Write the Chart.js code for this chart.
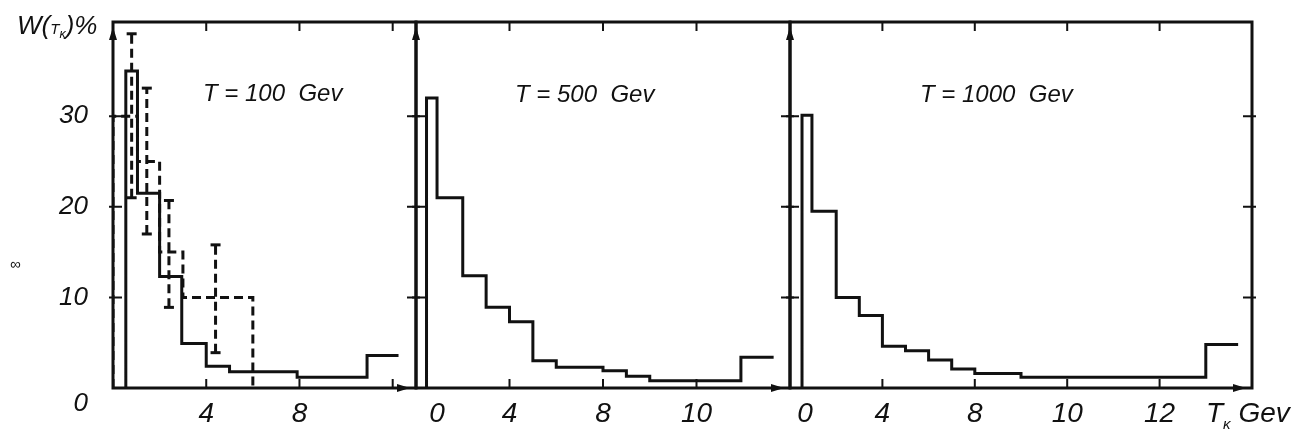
<!DOCTYPE html>
<html>
<head>
<meta charset="utf-8">
<script src="https://cdn.jsdelivr.net/npm/chart.js@4.4.1/dist/chart.umd.min.js"></script>
<style>
  html, body { margin: 0; padding: 0; background: #fff; }
  #page { position: relative; width: 1292px; height: 431px; overflow: hidden;
          font-family: "Liberation Sans", "DejaVu Sans", sans-serif; font-style: italic; color: #111; }
  canvas { position: absolute; left: 0; top: 0; }
  .txt { position: absolute; white-space: nowrap; line-height: 1; }
  .sm { font-size: 15px; }
</style>
</head>
<body>
<div id="page">
  <canvas id="c1" width="1292" height="431"></canvas>
  <canvas id="c2" width="1292" height="431"></canvas>
  <canvas id="c3" width="1292" height="431"></canvas>
  <div class="txt" style="left:17px;top:12px;font-size:26px">W(<span class="sm">T<sub>κ</sub></span>)%</div>
  <div class="txt" style="left:10px;top:256px;font-size:15px;font-style:normal">∞</div>
  <div class="txt" style="left:203px;top:81px;font-size:24px">T = 100&nbsp; Gev</div>
  <div class="txt" style="left:515px;top:82px;font-size:24px">T = 500&nbsp; Gev</div>
  <div class="txt" style="left:920px;top:82px;font-size:24px">T = 1000&nbsp; Gev</div>
  <div class="txt" style="left:1206px;top:399px;font-size:28px">T<sub class="sm">κ</sub> Gev</div>
</div>
<script>
// shared y axis
const yTicks = [0, 10, 20, 30];
const yTickLabels = ['0', '10', '20', '30'];

// T = 100 GeV : calculated histogram (solid)
const p1Edges = [0.55, 1.05, 2, 2.95, 4, 5, 7.9, 10.9, 12.25];
const p1Heights = [35, 21.5, 12.3, 4.9, 2.4, 1.8, 1.2, 3.6];
// T = 100 GeV : experiment (dashed) with error bars
const p1DashEdges = [0, 1.05, 2, 3, 6];
const p1DashHeights = [30, 25, 15, 10];
const p1ErrX = [0.8, 1.45, 2.4, 4.4];
const p1ErrLo = [21, 17, 8.9, 3.9];
const p1ErrHi = [39.1, 33.1, 20.7, 15.8];
const p1XMarks = [4, 8, 12];
const p1XLabelPos = [4, 8];
const p1XLabels = ['4', '8'];

// T = 500 GeV
const p2Edges = [0.45, 0.9, 2, 3, 4, 5, 6, 8, 9, 10, 13.9, 15.3];
const p2Heights = [32, 21, 12.4, 8.9, 7.3, 3, 2.3, 1.9, 1.3, 0.8, 3.4];
const p2XMarks = [4, 8, 12];
const p2XLabelPos = [0.9, 4, 8, 12];
const p2XLabels = ['0', '4', '8', '10'];

// T = 1000 GeV
const p3Edges = [0.52, 0.95, 2, 3, 4, 5, 6, 7, 8, 10, 18, 19.4];
const p3Heights = [30.1, 19.5, 10, 8, 4.6, 4.1, 3.1, 2.1, 1.6, 1.2, 4.8];
const p3XMarks = [4, 8, 12, 16];
const p3XLabelPos = [0.65, 4, 8, 12, 16];
const p3XLabels = ['0', '4', '8', '10', '12'];

const INK = '#111';
const FONT = '"Liberation Sans", "DejaVu Sans", sans-serif';

function histPoints(edges, heights, closeEnd) {
  const pts = [{x: edges[0], y: 0}];
  heights.forEach((h, i) => pts.push({x: edges[i], y: h}));
  pts.push({x: edges[edges.length - 1], y: heights[heights.length - 1]});
  if (closeEnd) pts.push({x: edges[edges.length - 1], y: 0});
  return pts;
}

function errPoints(xs, lo, hi) {
  const pts = [];
  xs.forEach((x, i) => pts.push({x, y: lo[i]}, {x, y: hi[i]}, {x, y: null}));
  return pts;
}

const framePlugin = {
  id: 'frame',
  afterDatasetsDraw(chart, args, opts) {
    const {ctx, chartArea: a} = chart;
    const x = chart.scales.x, y = chart.scales.y;
    ctx.save();
    ctx.strokeStyle = INK;
    ctx.lineWidth = 3;
    ctx.strokeRect(a.left, a.top, a.right - a.left, a.bottom - a.top);
    ctx.lineWidth = 2;
    ctx.beginPath();
    yTicks.slice(1).forEach(v => {
      const py = y.getPixelForValue(v);
      ctx.moveTo(a.left - 4, py); ctx.lineTo(a.left + 9, py);
      ctx.moveTo(a.right - 9, py); ctx.lineTo(a.right + 4, py);
    });
    opts.marks.forEach(v => {
      const px = x.getPixelForValue(v);
      ctx.moveTo(px, a.top); ctx.lineTo(px, a.top + 9);
      ctx.moveTo(px, a.bottom); ctx.lineTo(px, a.bottom - 9);
    });
    ctx.stroke();
    // axis arrows
    ctx.fillStyle = INK;
    ctx.beginPath();
    ctx.moveTo(a.left, a.top + 5); ctx.lineTo(a.left - 4, a.top + 18); ctx.lineTo(a.left + 4, a.top + 18); ctx.closePath();
    ctx.moveTo(a.right - 6, a.bottom); ctx.lineTo(a.right - 19, a.bottom - 4); ctx.lineTo(a.right - 19, a.bottom + 4); ctx.closePath();
    ctx.fill();
    ctx.restore();
  }
};

function panel(id, xMax, padLeft, padRight, showY, datasets, marks, labelPos, labels) {
  return new Chart(document.getElementById(id), {
    type: 'line',
    data: {datasets},
    options: {
      responsive: false,
      animation: false,
      layout: {padding: {left: padLeft, right: padRight, top: 22, bottom: 0}},
      plugins: {legend: {display: false}, tooltip: {enabled: false}, frame: {marks}},
      elements: {point: {radius: 0}},
      scales: {
        x: {
          type: 'linear', min: 0, max: xMax,
          afterBuildTicks: s => { s.ticks = labelPos.map(v => ({value: v})); },
          afterFit: s => { s.height = 43; s.paddingLeft = 0; s.paddingRight = 0; },
          grid: {display: false, drawTicks: false},
          border: {display: false},
          ticks: {
            autoSkip: false, maxRotation: 0, padding: 9, color: INK,
            font: {family: FONT, size: 28, style: 'italic'},
            callback: (v, i) => labels[i]
          }
        },
        y: {
          display: showY, min: 0, max: 40.4,
          afterBuildTicks: s => { s.ticks = yTicks.map(v => ({value: v})); },
          afterFit: s => { s.width = showY ? 113 : 0; s.paddingTop = 0; s.paddingBottom = 0; },
          grid: {display: false, drawTicks: false},
          border: {display: false},
          ticks: {
            padding: 25, color: INK,
            font: {family: FONT, size: 26, style: 'italic'},
            callback: (v, i) => i === 0 ? ['', yTickLabels[0]] : yTickLabels[i]
          }
        }
      }
    },
    plugins: [framePlugin]
  });
}

const solid = pts => ({data: pts, borderColor: INK, borderWidth: 3, stepped: true, fill: false, pointRadius: 0});

panel('c1', 13, 0, 1292 - 416, true, [
  solid(histPoints(p1Edges, p1Heights, false)),
  {data: histPoints(p1DashEdges, p1DashHeights, true), borderColor: INK, borderWidth: 3,
   borderDash: [9, 5], stepped: true, fill: false, pointRadius: 0},
  {data: errPoints(p1ErrX, p1ErrLo, p1ErrHi), borderColor: INK, borderWidth: 3, borderDash: [9, 5],
   spanGaps: false, fill: false, pointStyle: 'line', pointRadius: 5, pointBorderWidth: 3,
   pointBorderColor: INK}
], p1XMarks, p1XLabelPos, p1XLabels);

panel('c2', 16, 416, 1292 - 790, false, [
  solid(histPoints(p2Edges, p2Heights, false))
], p2XMarks, p2XLabelPos, p2XLabels);

panel('c3', 20, 790, 1292 - 1252, false, [
  solid(histPoints(p3Edges, p3Heights, false))
], p3XMarks, p3XLabelPos, p3XLabels);
</script>
</body>
</html>
